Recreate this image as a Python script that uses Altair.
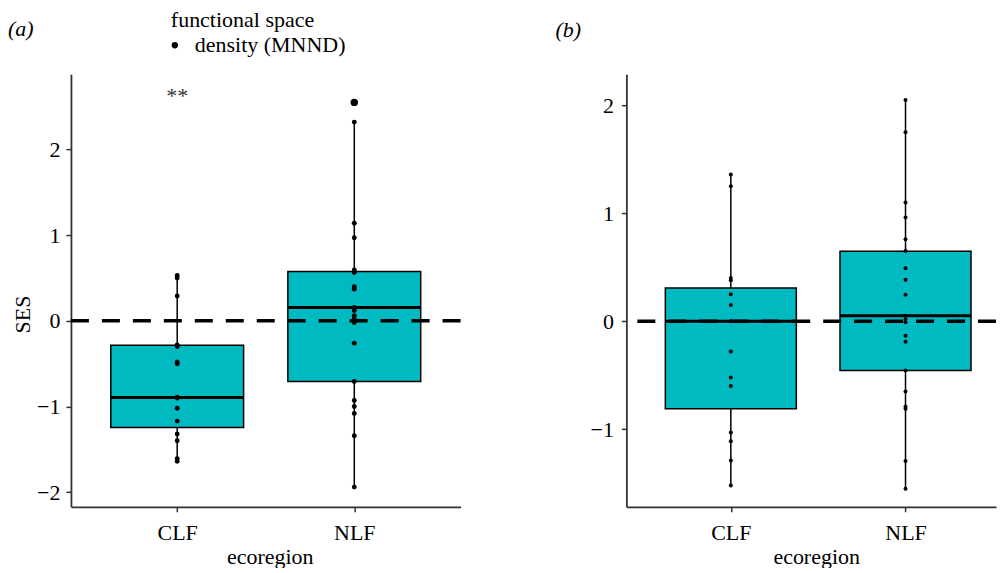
import altair as alt
import pandas as pd

# ---------------- data ----------------
categories = ["CLF", "NLF"]
metric = "density (MNND)"
reference_line = [0]

# panel (a): SES values per ecoregion
a_clf = [0.53, 0.50, 0.29, -0.28, -0.30, -0.48, -0.50, -0.89, -0.90, -1.02,
         -1.17, -1.32, -1.40, -1.61, -1.64]
a_nlf = [2.55, 2.32, 1.14, 0.97, 0.595, 0.565, 0.40, 0.37, 0.156, 0.12, 0.06,
         0.02, -0.02, -0.26, -0.707, -0.93, -1.00, -1.08, -1.34, -1.94]
# panel (a) box statistics (CLF, NLF)
a_lower = [-1.64, -1.94]
a_q1 = [-1.244, -0.707]
a_median = [-0.894, 0.156]
a_q3 = [-0.284, 0.576]
a_upper = [0.53, 2.32]
a_outlier_cat = ["NLF"]
a_outlier_val = [2.55]
# significance annotation in panel (a)
signif_cat = ["CLF"]
signif_label = ["**"]
signif_y = [2.63]

# panel (b): SES values per ecoregion
b_clf = [1.36, 1.25, 0.40, 0.38, 0.25, 0.15, 0.00, -0.28, -0.52, -0.60,
         -1.03, -1.11, -1.29, -1.52]
b_nlf = [2.05, 1.75, 1.10, 0.96, 0.76, 0.65, 0.49, 0.385, 0.246, 0.052, 0.02,
         -0.01, -0.135, -0.19, -0.457, -0.65, -0.79, -0.81, -1.295, -1.55]
b_lower = [-1.52, -1.55]
b_q1 = [-0.811, -0.457]
b_median = [0.0, 0.052]
b_q3 = [0.308, 0.648]
b_upper = [1.36, 2.05]

# ---------------- styling ----------------
FONT = "Liberation Serif"
TEAL = "#00BAC2"
AXIS_COLOR = "#333333"

pos_expr = f"indexof({categories!r}, datum.ecoregion) + 1"
label_expr = f"datum.value == 1 ? '{categories[0]}' : '{categories[1]}'"


def make_panel(values_clf, values_nlf, lower, q1, med, q3, upper,
               ydomain, yticks, xdomain, width, title_text, title_dx,
               title_dy, ytitle, xtitle_x, point_size, legend, out_cat=None,
               out_val=None, annot=None):
    pts = pd.DataFrame({
        "ecoregion": [categories[0]] * len(values_clf) + [categories[1]] * len(values_nlf),
        "SES": values_clf + values_nlf,
        "metric": metric,
    })
    stats = pd.DataFrame({"ecoregion": categories, "lower": lower, "q1": q1,
                          "median": med, "q3": q3, "upper": upper})
    ref = pd.DataFrame({"ref": reference_line})

    xscale = alt.Scale(domain=xdomain, nice=False, zero=False)
    yscale = alt.Scale(domain=ydomain, nice=False, zero=False)
    xaxis = alt.Axis(values=[1, 2], labelExpr=label_expr, title="ecoregion",
                     titleX=xtitle_x, titleY=57, titleBaseline="alphabetic",
                     titleAlign="center", labelPadding=11)
    if ytitle:
        yaxis = alt.Axis(values=yticks, format="d", title=ytitle, titleX=-41,
                         titleY=240, titleBaseline="alphabetic",
                         titleAlign="center", titleAngle=270, labelPadding=6)
    else:
        yaxis = alt.Axis(values=yticks, format="d", title=None, labelPadding=8)

    X = lambda f: alt.X(f"{f}:Q", scale=xscale, axis=xaxis)
    Y = lambda f: alt.Y(f"{f}:Q", scale=yscale, axis=yaxis)

    sbase = alt.Chart(stats).transform_calculate(pos=pos_expr).transform_calculate(
        xl="datum.pos - 0.375", xr="datum.pos + 0.375")

    whisker = sbase.mark_rule(color="black", strokeWidth=1.5).encode(
        x=X("pos"), y=Y("lower"), y2="upper")
    box = sbase.mark_bar(fill=TEAL, stroke="black", strokeWidth=1.5).encode(
        x=X("xl"), x2="xr", y=Y("q1"), y2="q3")
    median = sbase.mark_rule(color="black", strokeWidth=3).encode(
        x=X("xl"), x2="xr", y=Y("median"))
    zero = alt.Chart(ref).mark_rule(color="black", strokeWidth=3.5,
                                    strokeDash=[18, 13]).encode(y=Y("ref"))
    color = alt.Color("metric:N", scale=alt.Scale(range=["black"]),
                      legend=legend)
    points = alt.Chart(pts).transform_calculate(pos=pos_expr).mark_circle(
        size=point_size, opacity=1).encode(x=X("pos"), y=Y("SES"), color=color)
    layers = [whisker, box, median, zero, points]
    if out_cat:
        odf = pd.DataFrame({"ecoregion": out_cat, "SES": out_val})
        layers.append(alt.Chart(odf).transform_calculate(pos=pos_expr).mark_circle(
            size=55, opacity=1, color="black").encode(x=X("pos"), y=Y("SES")))
    if annot:
        adf = pd.DataFrame({"ecoregion": annot[0], "label": annot[1], "y": annot[2]})
        layers.append(alt.Chart(adf).transform_calculate(pos=pos_expr).mark_text(
            font=FONT, fontSize=22, baseline="middle", align="center",
            color="#333333").encode(x=X("pos"), y=Y("y"), text="label:N"))
    return alt.layer(*layers).properties(
        width=width, height=433,
        title=alt.TitleParams(title_text, anchor="start", frame="group",
                              font=FONT, fontSize=22, fontStyle="italic",
                              fontWeight="normal", color="black",
                              dx=title_dx, dy=title_dy, offset=0))


legend_a = alt.Legend(title="functional space", orient="none", legendX=100,
                      legendY=-64, padding=0, titlePadding=2,
                      titleFont=FONT, titleFontSize=22, titleFontWeight="normal",
                      titleColor="black", labelFont=FONT, labelFontSize=22,
                      labelColor="black", symbolType="circle", symbolSize=40,
                      symbolStrokeWidth=0, symbolOffset=-7, labelOffset=9)

panel_a = make_panel(a_clf, a_nlf, a_lower, a_q1, a_median, a_q3, a_upper,
                     ydomain=[-2.17, 2.879], yticks=[-2, -1, 0, 1, 2],
                     xdomain=[0.4, 2.6], width=390, title_text="(a)",
                     title_dx=-63, title_dy=31, ytitle="SES", xtitle_x=199,
                     point_size=24, legend=legend_a, out_cat=a_outlier_cat,
                     out_val=a_outlier_val,
                     annot=(signif_cat, signif_label, signif_y))

panel_b = make_panel(b_clf, b_nlf, b_lower, b_q1, b_median, b_q3, b_upper,
                     ydomain=[-1.718, 2.288], yticks=[-1, 0, 1, 2],
                     xdomain=[0.402, 2.518], width=370, title_text="(b)",
                     title_dx=-71, title_dy=-32, ytitle=None, xtitle_x=190,
                     point_size=16, legend=None)

chart = alt.hconcat(panel_a, panel_b, spacing=166, bounds="flush").resolve_scale(
    x="independent", y="independent").resolve_legend(color="independent").properties(
    padding={"left": 0, "top": 2, "right": 0, "bottom": 0},
    background="white",
).configure_view(strokeWidth=0).configure_axis(
    grid=False, labelFont=FONT, labelFontSize=22, labelColor="black",
    titleFont=FONT, titleFontSize=22, titleFontWeight="normal",
    titleColor="black", domainColor=AXIS_COLOR, domainWidth=1.8,
    tickColor=AXIS_COLOR, tickWidth=1.5, tickSize=5,
)

chart.save("out.html", embed_options={"renderer": "svg", "actions": False})
